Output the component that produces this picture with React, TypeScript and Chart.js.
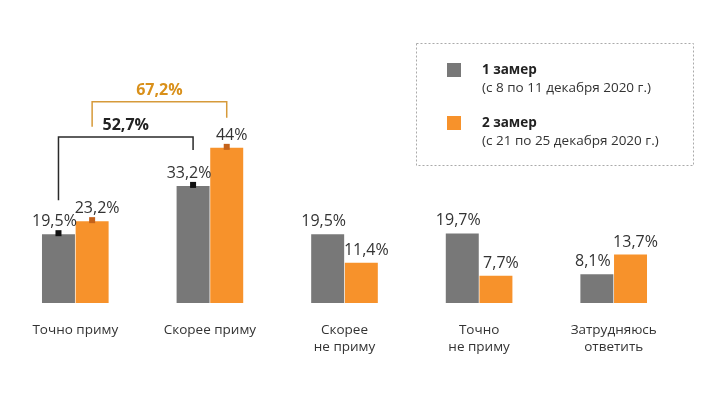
import React, { useEffect, useRef } from "react";
import { Chart, registerables } from "chart.js";

Chart.register(...registerables);

const categories: string[][] = [
  ["Точно приму"],
  ["Скорее приму"],
  ["Скорее", "не приму"],
  ["Точно", "не приму"],
  ["Затрудняюсь", "ответить"],
];
const series1Values = [19.5, 33.2, 19.5, 19.7, 8.1];
const series2Values = [23.2, 44, 11.4, 7.7, 13.7];
const series1Label = "1 замер";
const series1Sub = "(с 8 по 11 декабря 2020 г.)";
const series2Label = "2 замер";
const series2Sub = "(с 21 по 25 декабря 2020 г.)";
const bracketLabels = ["52,7%", "67,2%"];
const bracketSeries = [0, 1];
const bracketFrom = [0, 0];
const bracketTo = [1, 1];

const GRAY = "#787878";
const ORANGE = "#f7922b";
const FONT = "'Open Sans', sans-serif";

const fmt = (v: number) => String(v).replace(".", ",") + "%";

const overlayPlugin = {
  id: "overlay",
  afterDatasetsDraw(chart: any) {
    const ctx = chart.ctx;
    const metas = [chart.getDatasetMeta(0), chart.getDatasetMeta(1)];
    ctx.save();
    // value labels
    ctx.font = `16px ${FONT}`;
    ctx.fillStyle = "#333";
    ctx.textAlign = "center";
    ctx.textBaseline = "alphabetic";
    metas.forEach((meta: any, di: number) => {
      const vals = di === 0 ? series1Values : series2Values;
      meta.data.forEach((bar: any, i: number) => {
        const dx = di === 0 ? -4 : 5;
        ctx.fillText(fmt(vals[i]), bar.x + dx, bar.y - 8);
      });
    });
    // markers on bars of bracketed groups
    const markerIdx = new Set<number>();
    bracketFrom.forEach((f) => markerIdx.add(f));
    bracketTo.forEach((t) => markerIdx.add(t));
    metas.forEach((meta: any, di: number) => {
      ctx.fillStyle = di === 0 ? "#111" : "#c4621a";
      markerIdx.forEach((i) => {
        const bar = meta.data[i];
        ctx.fillRect(bar.x - 3, bar.y - 4, 6, 6);
      });
    });
    // brackets
    bracketLabels.forEach((lab, b) => {
      const meta = metas[bracketSeries[b]];
      const a = meta.data[bracketFrom[b]];
      const c = meta.data[bracketTo[b]];
      const isOrange = bracketSeries[b] === 1;
      const top = Math.min(a.y, c.y) - (isOrange ? 46 : 49);
      const leftEnd = isOrange ? top + 25 : a.y - 34;
      const rightEnd = isOrange ? c.y - 30 : c.y - 36;
      ctx.strokeStyle = isOrange ? "#d69a3a" : "#2a2a2a";
      ctx.lineWidth = 1.5;
      ctx.beginPath();
      ctx.moveTo(a.x, leftEnd);
      ctx.lineTo(a.x, top);
      ctx.lineTo(c.x, top);
      ctx.lineTo(c.x, rightEnd);
      ctx.stroke();
      ctx.font = `bold 16px ${FONT}`;
      ctx.fillStyle = isOrange ? "#d9901a" : "#222";
      ctx.textAlign = "center";
      ctx.textBaseline = "middle";
      ctx.fillText(lab, (a.x + c.x) / 2, top - 11);
    });
    // legend box
    ctx.setLineDash([2, 2]);
    ctx.strokeStyle = "#aaa";
    ctx.lineWidth = 1;
    ctx.strokeRect(416.5, 43.5, 277, 122);
    ctx.setLineDash([]);
    const items = [
      { color: GRAY, label: series1Label, sub: series1Sub, y: 63 },
      { color: ORANGE, label: series2Label, sub: series2Sub, y: 116 },
    ];
    items.forEach((it) => {
      ctx.fillStyle = it.color;
      ctx.fillRect(447, it.y, 14, 14);
      ctx.textAlign = "left";
      ctx.textBaseline = "middle";
      ctx.fillStyle = "#222";
      ctx.font = `bold 13.5px ${FONT}`;
      ctx.fillText(it.label, 482, it.y + 7);
      ctx.fillStyle = "#333";
      ctx.font = `13.5px ${FONT}`;
      ctx.fillText(it.sub, 482, it.y + 25);
    });
    ctx.restore();
  },
};

export default function App() {
  const ref = useRef<HTMLCanvasElement | null>(null);
  useEffect(() => {
    document.body.style.margin = "0";
    document.body.style.background = "#fff";
    const chart = new Chart(ref.current as HTMLCanvasElement, {
      type: "bar",
      data: {
        labels: categories,
        datasets: [
          { label: series1Label, data: series1Values, backgroundColor: GRAY, borderWidth: 0 },
          { label: series2Label, data: series2Values, backgroundColor: ORANGE, borderWidth: 0 },
        ],
      },
      options: {
        responsive: false,
        animation: false,
        layout: { padding: { left: 8, right: 21, top: 21, bottom: 21 } },
        datasets: { bar: { categoryPercentage: 0.5, barPercentage: 0.98 } },
        plugins: { legend: { display: false }, tooltip: { enabled: false } },
        scales: {
          x: {
            grid: { display: false, drawTicks: false },
            border: { display: false },
            ticks: {
              padding: 18,
              color: "#333",
              font: { family: FONT, size: 13.5, lineHeight: 1.3 },
              maxRotation: 0,
              autoSkip: false,
            },
          },
          y: { display: false, min: 0, max: 80 },
        },
      },
      plugins: [overlayPlugin],
    });
    return () => chart.destroy();
  }, []);
  return <canvas ref={ref} width={702} height={395} style={{ display: "block" }} />;
}
